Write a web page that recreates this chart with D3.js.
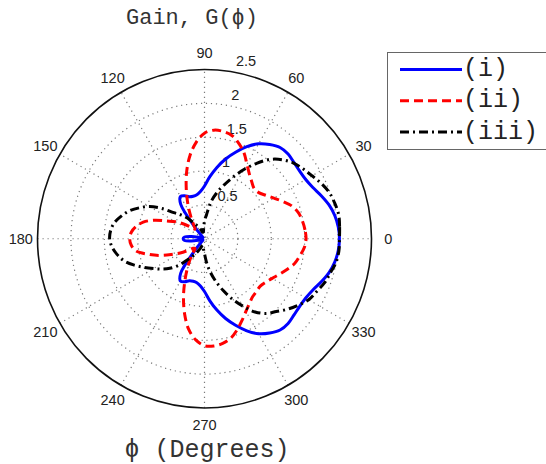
<!DOCTYPE html>
<html>
<head>
<meta charset="utf-8">
<script src="https://cdn.jsdelivr.net/npm/d3@7"></script>
<style>
  body { margin: 0; background: #fff; }
  svg { display: block; }
</style>
</head>
<body>
<svg width="546" height="464"></svg>
<script>
// angle grid of the measured patterns (degrees)
const angles = d3.range(0, 360, 5);

// gain readings, one per 5 degrees starting at 0
const gainI = [
  2.02, 2.01, 1.98, 1.93, 1.86, 1.79, 1.75, 1.74, 1.75, 1.77, 1.76, 1.70,
  1.62, 1.50, 1.36, 1.22, 1.07, 0.92, 0.78, 0.70, 0.66, 0.65, 0.66, 0.70,
  0.72, 0.62, 0.22, 0.05, 0.03, 0.03, 0.03, 0.03, 0.04, 0.08, 0.20, 0.30,
  0.32, 0.30, 0.20, 0.08, 0.04, 0.03, 0.03, 0.03, 0.03, 0.05, 0.22, 0.62,
  0.72, 0.70, 0.66, 0.65, 0.66, 0.70, 0.78, 0.92, 1.07, 1.22, 1.36, 1.50,
  1.62, 1.70, 1.76, 1.77, 1.75, 1.74, 1.75, 1.79, 1.86, 1.93, 1.98, 2.01
];
const gainII = [
  1.52, 1.51, 1.49, 1.46, 1.40, 1.30, 1.20, 1.12, 1.06, 1.05, 1.10, 1.17,
  1.27, 1.40, 1.50, 1.58, 1.61, 1.61, 1.56, 1.43, 1.25, 1.03, 0.80, 0.60,
  0.44, 0.32, 0.24, 0.20, 0.27, 0.38, 0.50, 0.62, 0.80, 0.95, 1.04, 1.10,
  1.12, 1.10, 1.04, 0.88, 0.72, 0.55, 0.42, 0.30, 0.22, 0.20, 0.26, 0.38,
  0.52, 0.70, 0.92, 1.15, 1.36, 1.50, 1.58, 1.59, 1.57, 1.52, 1.43, 1.33,
  1.24, 1.17, 1.12, 1.10, 1.09, 1.12, 1.17, 1.24, 1.32, 1.40, 1.45, 1.50
];
const gainIII = [
  2.02, 2.03, 2.04, 2.02, 1.99, 1.93, 1.86, 1.80, 1.74, 1.65, 1.53, 1.36,
  1.18, 1.00, 0.84, 0.70, 0.55, 0.36, 0.26, 0.15, 0.10, 0.10, 0.12, 0.17,
  0.22, 0.29, 0.40, 0.50, 0.60, 0.78, 0.95, 1.08, 1.20, 1.29, 1.37, 1.41,
  1.42, 1.39, 1.33, 1.25, 1.13, 1.00, 0.88, 0.78, 0.68, 0.56, 0.42, 0.32,
  0.24, 0.17, 0.12, 0.10, 0.12, 0.16, 0.22, 0.35, 0.50, 0.65, 0.81, 0.98,
  1.15, 1.32, 1.44, 1.52, 1.62, 1.71, 1.80, 1.85, 1.91, 1.95, 2.00, 2.02
];

const ringTicks = [0.5, 1, 1.5, 2, 2.5];
const spokeAngles = [0, 30, 60, 90, 120, 150];
const angleTicks = [0, 30, 60, 90, 120, 150, 180, 210, 240, 270, 300, 330];
const seriesNames = ['(i)', '(ii)', '(iii)'];

const svg = d3.select('svg');
const rMax = 2.5;

const xScale = d3.scaleLinear().domain([-rMax, rMax]).range([37.5, 371.5]);
const yScale = d3.scaleLinear().domain([-rMax, rMax]).range([408, 69.5]);

const rad = a => a * Math.PI / 180;
const px = (r, a) => xScale(r * Math.cos(rad(a)));
const py = (r, a) => yScale(r * Math.sin(rad(a)));

const gridColor = '#7a7a7a';

// dotted rings
svg.append('g')
  .selectAll('ellipse')
  .data(ringTicks.filter(r => r < rMax))
  .join('ellipse')
    .attr('cx', xScale(0))
    .attr('cy', yScale(0))
    .attr('rx', d => xScale(d) - xScale(0))
    .attr('ry', d => yScale(0) - yScale(d))
    .attr('fill', 'none')
    .attr('stroke', gridColor)
    .attr('stroke-width', 1.2)
    .attr('stroke-dasharray', '1.2,3.8');

// dotted spokes
svg.append('g')
  .selectAll('line')
  .data(spokeAngles)
  .join('line')
    .attr('x1', d => px(-rMax, d))
    .attr('y1', d => py(-rMax, d))
    .attr('x2', d => px(rMax, d))
    .attr('y2', d => py(rMax, d))
    .attr('stroke', gridColor)
    .attr('stroke-width', 1.2)
    .attr('stroke-dasharray', '1.2,3.8');

// outer circle
svg.append('ellipse')
  .attr('cx', xScale(0))
  .attr('cy', yScale(0))
  .attr('rx', xScale(rMax) - xScale(0))
  .attr('ry', yScale(0) - yScale(rMax))
  .attr('fill', 'none')
  .attr('stroke', '#111')
  .attr('stroke-width', 1.6);

// radial tick labels along 82 degrees
svg.append('g')
  .selectAll('text')
  .data(ringTicks)
  .join('text')
    .attr('x', d => px(d + 0.025, 82) + 8)
    .attr('y', d => py(d + 0.025, 82) - 3)
    .attr('font-family', '"Liberation Sans", Arial, sans-serif')
    .attr('font-size', 14.5)
    .attr('fill', '#222')
    .text(d => d);

// angle labels
svg.append('g')
  .selectAll('text')
  .data(angleTicks)
  .join('text')
    .attr('x', d => px(rMax * 1.1, d))
    .attr('y', d => py(rMax * 1.1, d))
    .attr('text-anchor', 'middle')
    .attr('dominant-baseline', 'central')
    .attr('font-family', '"Liberation Sans", Arial, sans-serif')
    .attr('font-size', 14.5)
    .attr('fill', '#222')
    .text(d => d);

// pattern curves
const series = [
  { name: seriesNames[0], values: gainI, color: '#0000ff', dash: null },
  { name: seriesNames[1], values: gainII, color: '#ff0000', dash: '9,5' },
  { name: seriesNames[2], values: gainIII, color: '#000000', dash: '9,4,2,4' }
];

const line = d3.line()
  .x(d => px(d.g, d.a))
  .y(d => py(d.g, d.a))
  .curve(d3.curveCatmullRomClosed.alpha(0.5));

svg.append('g')
  .selectAll('path')
  .data(series)
  .join('path')
    .attr('d', s => line(angles.map((a, i) => ({ a, g: s.values[i] }))))
    .attr('fill', 'none')
    .attr('stroke', s => s.color)
    .attr('stroke-width', 3)
    .attr('stroke-dasharray', s => s.dash);

// titles
svg.append('text')
  .attr('x', 192)
  .attr('y', 24)
  .attr('text-anchor', 'middle')
  .attr('font-family', '"Liberation Mono", "Courier New", monospace')
  .attr('font-size', 22)
  .attr('fill', '#333')
  .text('Gain, G(\u03d5)');

svg.append('text')
  .attr('x', 207)
  .attr('y', 457)
  .attr('text-anchor', 'middle')
  .attr('font-family', '"Liberation Mono", "Courier New", monospace')
  .attr('font-size', 25)
  .attr('fill', '#333')
  .text('\u03d5 (Degrees)');

// legend
const legend = svg.append('g');
legend.append('rect')
  .attr('x', 387.5)
  .attr('y', 52.5)
  .attr('width', 170)
  .attr('height', 97)
  .attr('fill', '#fff')
  .attr('stroke', '#666')
  .attr('stroke-width', 1);

const legendY = d3.scalePoint().domain(seriesNames).range([69.5, 132]);

const item = legend.selectAll('g.item')
  .data(series)
  .join('g')
    .attr('class', 'item')
    .attr('transform', s => `translate(0, ${legendY(s.name)})`);

item.append('line')
  .attr('x1', 400)
  .attr('x2', 462)
  .attr('stroke', s => s.color)
  .attr('stroke-width', 3)
  .attr('stroke-dasharray', s => s.dash);

item.append('text')
  .attr('x', 463)
  .attr('dominant-baseline', 'central')
  .attr('font-family', '"Liberation Mono", "Courier New", monospace')
  .attr('font-size', 25)
  .attr('fill', '#222')
  .text(s => s.name);
</script>
</body>
</html>
